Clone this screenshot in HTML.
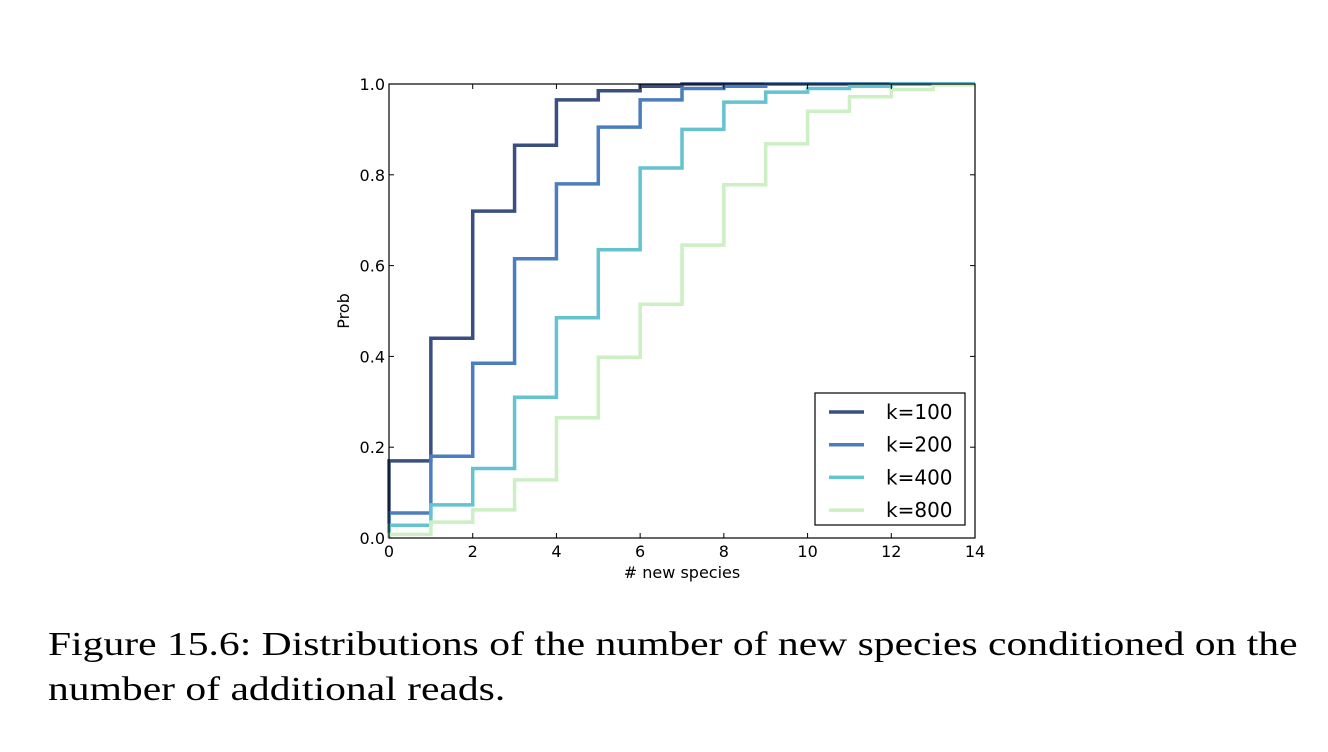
<!DOCTYPE html>
<html><head><meta charset="utf-8"><style>
html,body{margin:0;padding:0;background:#fff;width:1328px;height:752px;overflow:hidden}
svg text{font-family:"DejaVu Sans","Liberation Sans",sans-serif;fill:#000}
.cap{position:absolute;left:48px;top:622px;font-family:"Liberation Serif",serif;font-size:34px;line-height:45px;color:#000;white-space:nowrap;transform:scaleX(1.223);transform-origin:0 0}
</style></head><body>
<svg width="1328" height="752" style="position:absolute;left:0;top:0">
<g id="plot"></g>
</svg>
<div class="cap">Figure 15.6: Distributions of the number of new species conditioned on the<br>number of additional reads.</div>
<script>
const xTicks=[0,2,4,6,8,10,12,14];
const yTicks=[0.0,0.2,0.4,0.6,0.8,1.0];
const seriesNames=["k=100","k=200","k=400","k=800"];
const k100=[0.17,0.44,0.72,0.865,0.965,0.985,0.995,1,1,1,1,1,1,1];
const k200=[0.055,0.18,0.385,0.615,0.78,0.905,0.965,0.99,0.995,1,1,1,1,1];
const k400=[0.028,0.073,0.153,0.31,0.485,0.635,0.815,0.9,0.96,0.982,0.99,0.995,1,1];
const k800=[0.008,0.035,0.062,0.128,0.265,0.398,0.515,0.645,0.778,0.868,0.94,0.972,0.988,0.998];
const colors=["#3a4e80","#4c7dbe","#64c3cf","#ccefc4"];
const L=389,R=975,T=84,B=538;
const sx=v=>L+(v-0)/(14-0)*(R-L);
const sy=v=>B-(v-0)/(1-0)*(B-T);
const NS="http://www.w3.org/2000/svg";
const g=document.getElementById('plot');
function mk(t,a){const e=document.createElementNS(NS,t);for(const k in a)e.setAttribute(k,a[k]);g.appendChild(e);return e;}
const all=[k100,k200,k400,k800];
all.forEach((s,i)=>{
  let d="M"+sx(0)+","+sy(0);
  s.forEach((v,j)=>{d+=" L"+sx(j)+","+sy(v)+" L"+sx(j+1)+","+sy(v);});
  const p=mk('path',{d:d,fill:'none',stroke:colors[i],'stroke-width':3.5,'stroke-linejoin':'miter'});
  
  
});
const fr=mk('rect',{x:L,y:T,width:R-L,height:B-T,fill:'none',stroke:'#000','stroke-width':1.2});


xTicks.forEach(v=>{
  mk('line',{x1:sx(v),x2:sx(v),y1:B,y2:B-5,stroke:'#000'});
  mk('line',{x1:sx(v),x2:sx(v),y1:T,y2:T+5,stroke:'#000'});
  const t=mk('text',{x:sx(v),y:B+19,'text-anchor':'middle','font-size':16});
  t.textContent=v;
  
  
});
yTicks.forEach(v=>{
  mk('line',{x1:L,x2:L+5,y1:sy(v),y2:sy(v),stroke:'#000'});
  mk('line',{x1:R,x2:R-5,y1:sy(v),y2:sy(v),stroke:'#000'});
  const t=mk('text',{x:L-4,y:sy(v)+6,'text-anchor':'end','font-size':16});
  t.textContent=v.toFixed(1);
  
  
});
const xt=mk('text',{x:(L+R)/2,y:578,'text-anchor':'middle','font-size':16});
xt.textContent="# new species";


const yt=mk('text',{x:349,y:(T+B)/2,'text-anchor':'middle','font-size':16,transform:'rotate(-90 349 '+((T+B)/2)+')'});
yt.textContent="Prob";


const lb=mk('rect',{x:815,y:393,width:150,height:132,fill:'#fff',stroke:'#000','stroke-width':1.2});


seriesNames.forEach((n,i)=>{
  const y=412+i*32.7;
  const ln=mk('line',{x1:829,x2:864,y1:y,y2:y,stroke:colors[i],'stroke-width':3.5});
  
  
  const t=mk('text',{x:886,y:y+7,'font-size':20});
  t.textContent=n;
  
  
});
</script>
</body></html>
